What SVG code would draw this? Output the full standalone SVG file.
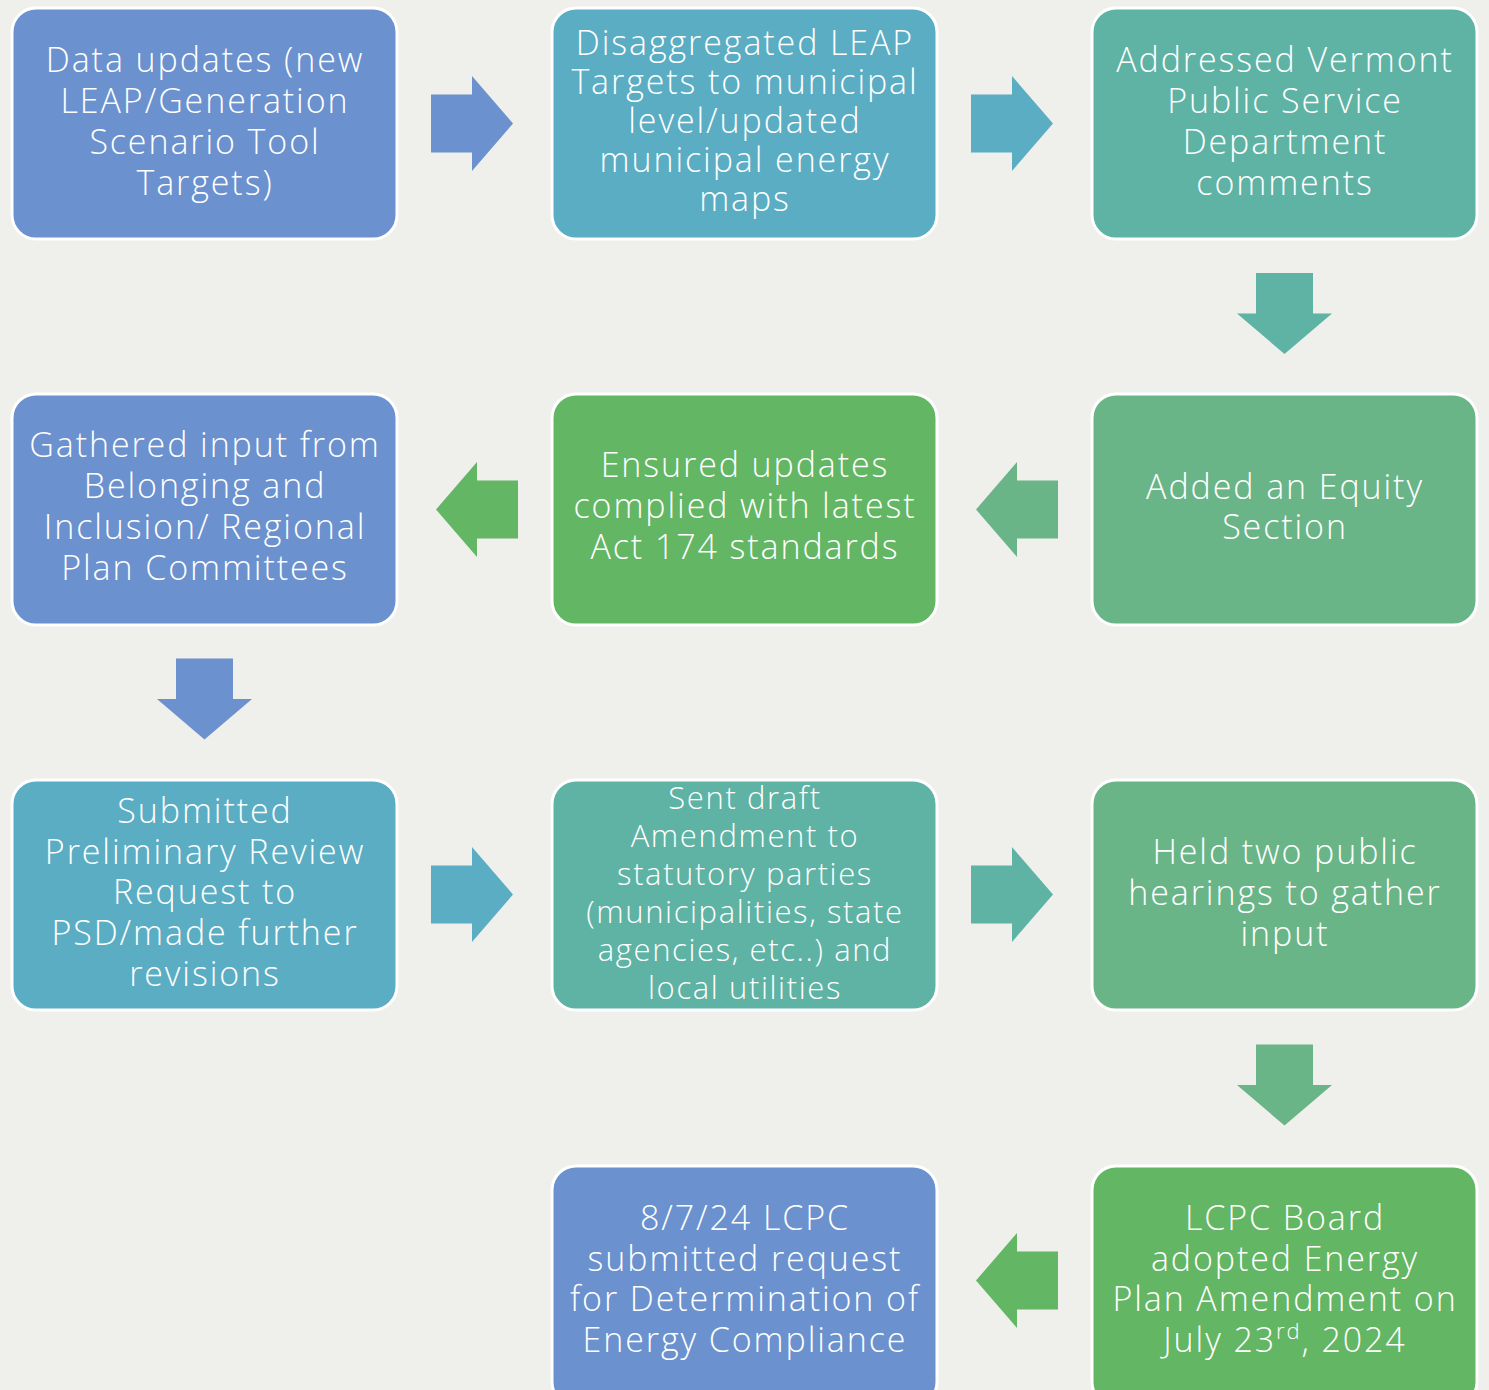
<svg xmlns="http://www.w3.org/2000/svg" width="1489" height="1390" viewBox="0 0 1489 1390">
  <style>
    .box { stroke: #ffffff; stroke-width: 3; }
    .blue { fill: #6B91CE; }
    .cyan { fill: #5AADC3; }
    .teal { fill: #5EB3A4; }
    .sage { fill: #6AB587; }
    .green { fill: #63B663; }
    .lbl { font-family: "Open Sans", "Liberation Sans", sans-serif; font-weight: 300; font-size: 34px; letter-spacing: 1.9px; fill: #ffffff; text-anchor: middle; }
    .xs { font-size: 31px; letter-spacing: 1.6px; }
  </style>
  <defs>
    <!-- block arrows, drawn around the origin: 82 long, 95 wide -->
    <path id="arrow-right" d="M-41,-29 H0 V-47.5 L41,0 L0,47.5 V29 H-41 Z"/>
    <path id="arrow-left" d="M41,-29 H0 V-47.5 L-41,0 L0,47.5 V29 H41 Z"/>
    <path id="arrow-down" d="M-28.5,-40.5 H28.5 V0 H47.5 L0,40.5 L-47.5,0 H-28.5 Z"/>
  </defs>

  <rect width="1489" height="1390" fill="#EFEFEB"/>

  <g id="connectors">
    <use href="#arrow-right" x="472" y="123.5" class="blue"/>
    <use href="#arrow-right" x="1012" y="123.5" class="cyan"/>
    <use href="#arrow-down" x="1284.5" y="313.5" class="teal"/>
    <use href="#arrow-left" x="1017" y="509.5" class="sage"/>
    <use href="#arrow-left" x="477" y="509.5" class="green"/>
    <use href="#arrow-down" x="204.5" y="699" class="blue"/>
    <use href="#arrow-right" x="472" y="894.5" class="cyan"/>
    <use href="#arrow-right" x="1012" y="894.5" class="teal"/>
    <use href="#arrow-down" x="1284.5" y="1085" class="sage"/>
    <use href="#arrow-left" x="1017" y="1280.5" class="green"/>
  </g>

  <g id="node-data-updates">
    <rect class="box blue" x="12" y="8" width="385" height="231" rx="24"/>
    <text class="lbl" x="205" y="72">Data updates (new</text>
    <text class="lbl" x="205" y="113">LEAP/Generation</text>
    <text class="lbl" x="205" y="154">Scenario Tool</text>
    <text class="lbl" x="205" y="195">Targets)</text>
  </g>

  <g id="node-disaggregated">
    <rect class="box cyan" x="552" y="8" width="385" height="231" rx="24"/>
    <text class="lbl" x="745" y="55">Disaggregated LEAP</text>
    <text class="lbl" x="745" y="94">Targets to municipal</text>
    <text class="lbl" x="745" y="133">level/updated</text>
    <text class="lbl" x="745" y="172">municipal energy</text>
    <text class="lbl" x="745" y="211">maps</text>
  </g>

  <g id="node-addressed">
    <rect class="box teal" x="1092" y="8" width="385" height="231" rx="24"/>
    <text class="lbl" x="1285" y="72">Addressed Vermont</text>
    <text class="lbl" x="1285" y="113">Public Service</text>
    <text class="lbl" x="1285" y="154">Department</text>
    <text class="lbl" x="1285" y="195">comments</text>
  </g>

  <g id="node-gathered">
    <rect class="box blue" x="12" y="394" width="385" height="231" rx="24"/>
    <text class="lbl" x="205" y="457">Gathered input from</text>
    <text class="lbl" x="205" y="498">Belonging and</text>
    <text class="lbl" x="205" y="539">Inclusion/ Regional</text>
    <text class="lbl" x="205" y="580">Plan Committees</text>
  </g>

  <g id="node-ensured">
    <rect class="box green" x="552" y="394" width="385" height="231" rx="24"/>
    <text class="lbl" x="745" y="477">Ensured updates</text>
    <text class="lbl" x="745" y="518">complied with latest</text>
    <text class="lbl" x="745" y="559">Act 174 standards</text>
  </g>

  <g id="node-equity">
    <rect class="box sage" x="1092" y="394" width="385" height="231" rx="24"/>
    <text class="lbl" x="1285" y="499">Added an Equity</text>
    <text class="lbl" x="1285" y="539">Section</text>
  </g>

  <g id="node-submitted">
    <rect class="box cyan" x="12" y="780" width="385" height="230" rx="24"/>
    <text class="lbl" x="205" y="823">Submitted</text>
    <text class="lbl" x="205" y="864">Preliminary Review</text>
    <text class="lbl" x="205" y="904">Request to</text>
    <text class="lbl" x="205" y="945">PSD/made further</text>
    <text class="lbl" x="205" y="986">revisions</text>
  </g>

  <g id="node-sent-draft">
    <rect class="box teal" x="552" y="780" width="385" height="230" rx="24"/>
    <text class="lbl xs" x="745" y="809">Sent draft</text>
    <text class="lbl xs" x="745" y="847">Amendment to</text>
    <text class="lbl xs" x="745" y="885">statutory parties</text>
    <text class="lbl xs" x="745" y="923">(municipalities, state</text>
    <text class="lbl xs" x="745" y="961">agencies, etc..) and</text>
    <text class="lbl xs" x="745" y="999">local utilities</text>
  </g>

  <g id="node-hearings">
    <rect class="box sage" x="1092" y="780" width="385" height="230" rx="24"/>
    <text class="lbl" x="1285" y="864">Held two public</text>
    <text class="lbl" x="1285" y="905">hearings to gather</text>
    <text class="lbl" x="1285" y="946">input</text>
  </g>

  <g id="node-determination">
    <rect class="box blue" x="552" y="1166" width="385" height="240" rx="24"/>
    <text class="lbl" x="745" y="1230">8/7/24 LCPC</text>
    <text class="lbl" x="745" y="1271">submitted request</text>
    <text class="lbl" x="745" y="1311">for Determination of</text>
    <text class="lbl" x="745" y="1352">Energy Compliance</text>
  </g>

  <g id="node-adopted">
    <rect class="box green" x="1092" y="1166" width="385" height="240" rx="24"/>
    <text class="lbl" x="1285" y="1230">LCPC Board</text>
    <text class="lbl" x="1285" y="1271">adopted Energy</text>
    <text class="lbl" x="1285" y="1311">Plan Amendment on</text>
    <text class="lbl" x="1285" y="1352">July 23<tspan font-size="22" dy="-13">rd</tspan><tspan dy="13">, 2024</tspan></text>
  </g>
</svg>
